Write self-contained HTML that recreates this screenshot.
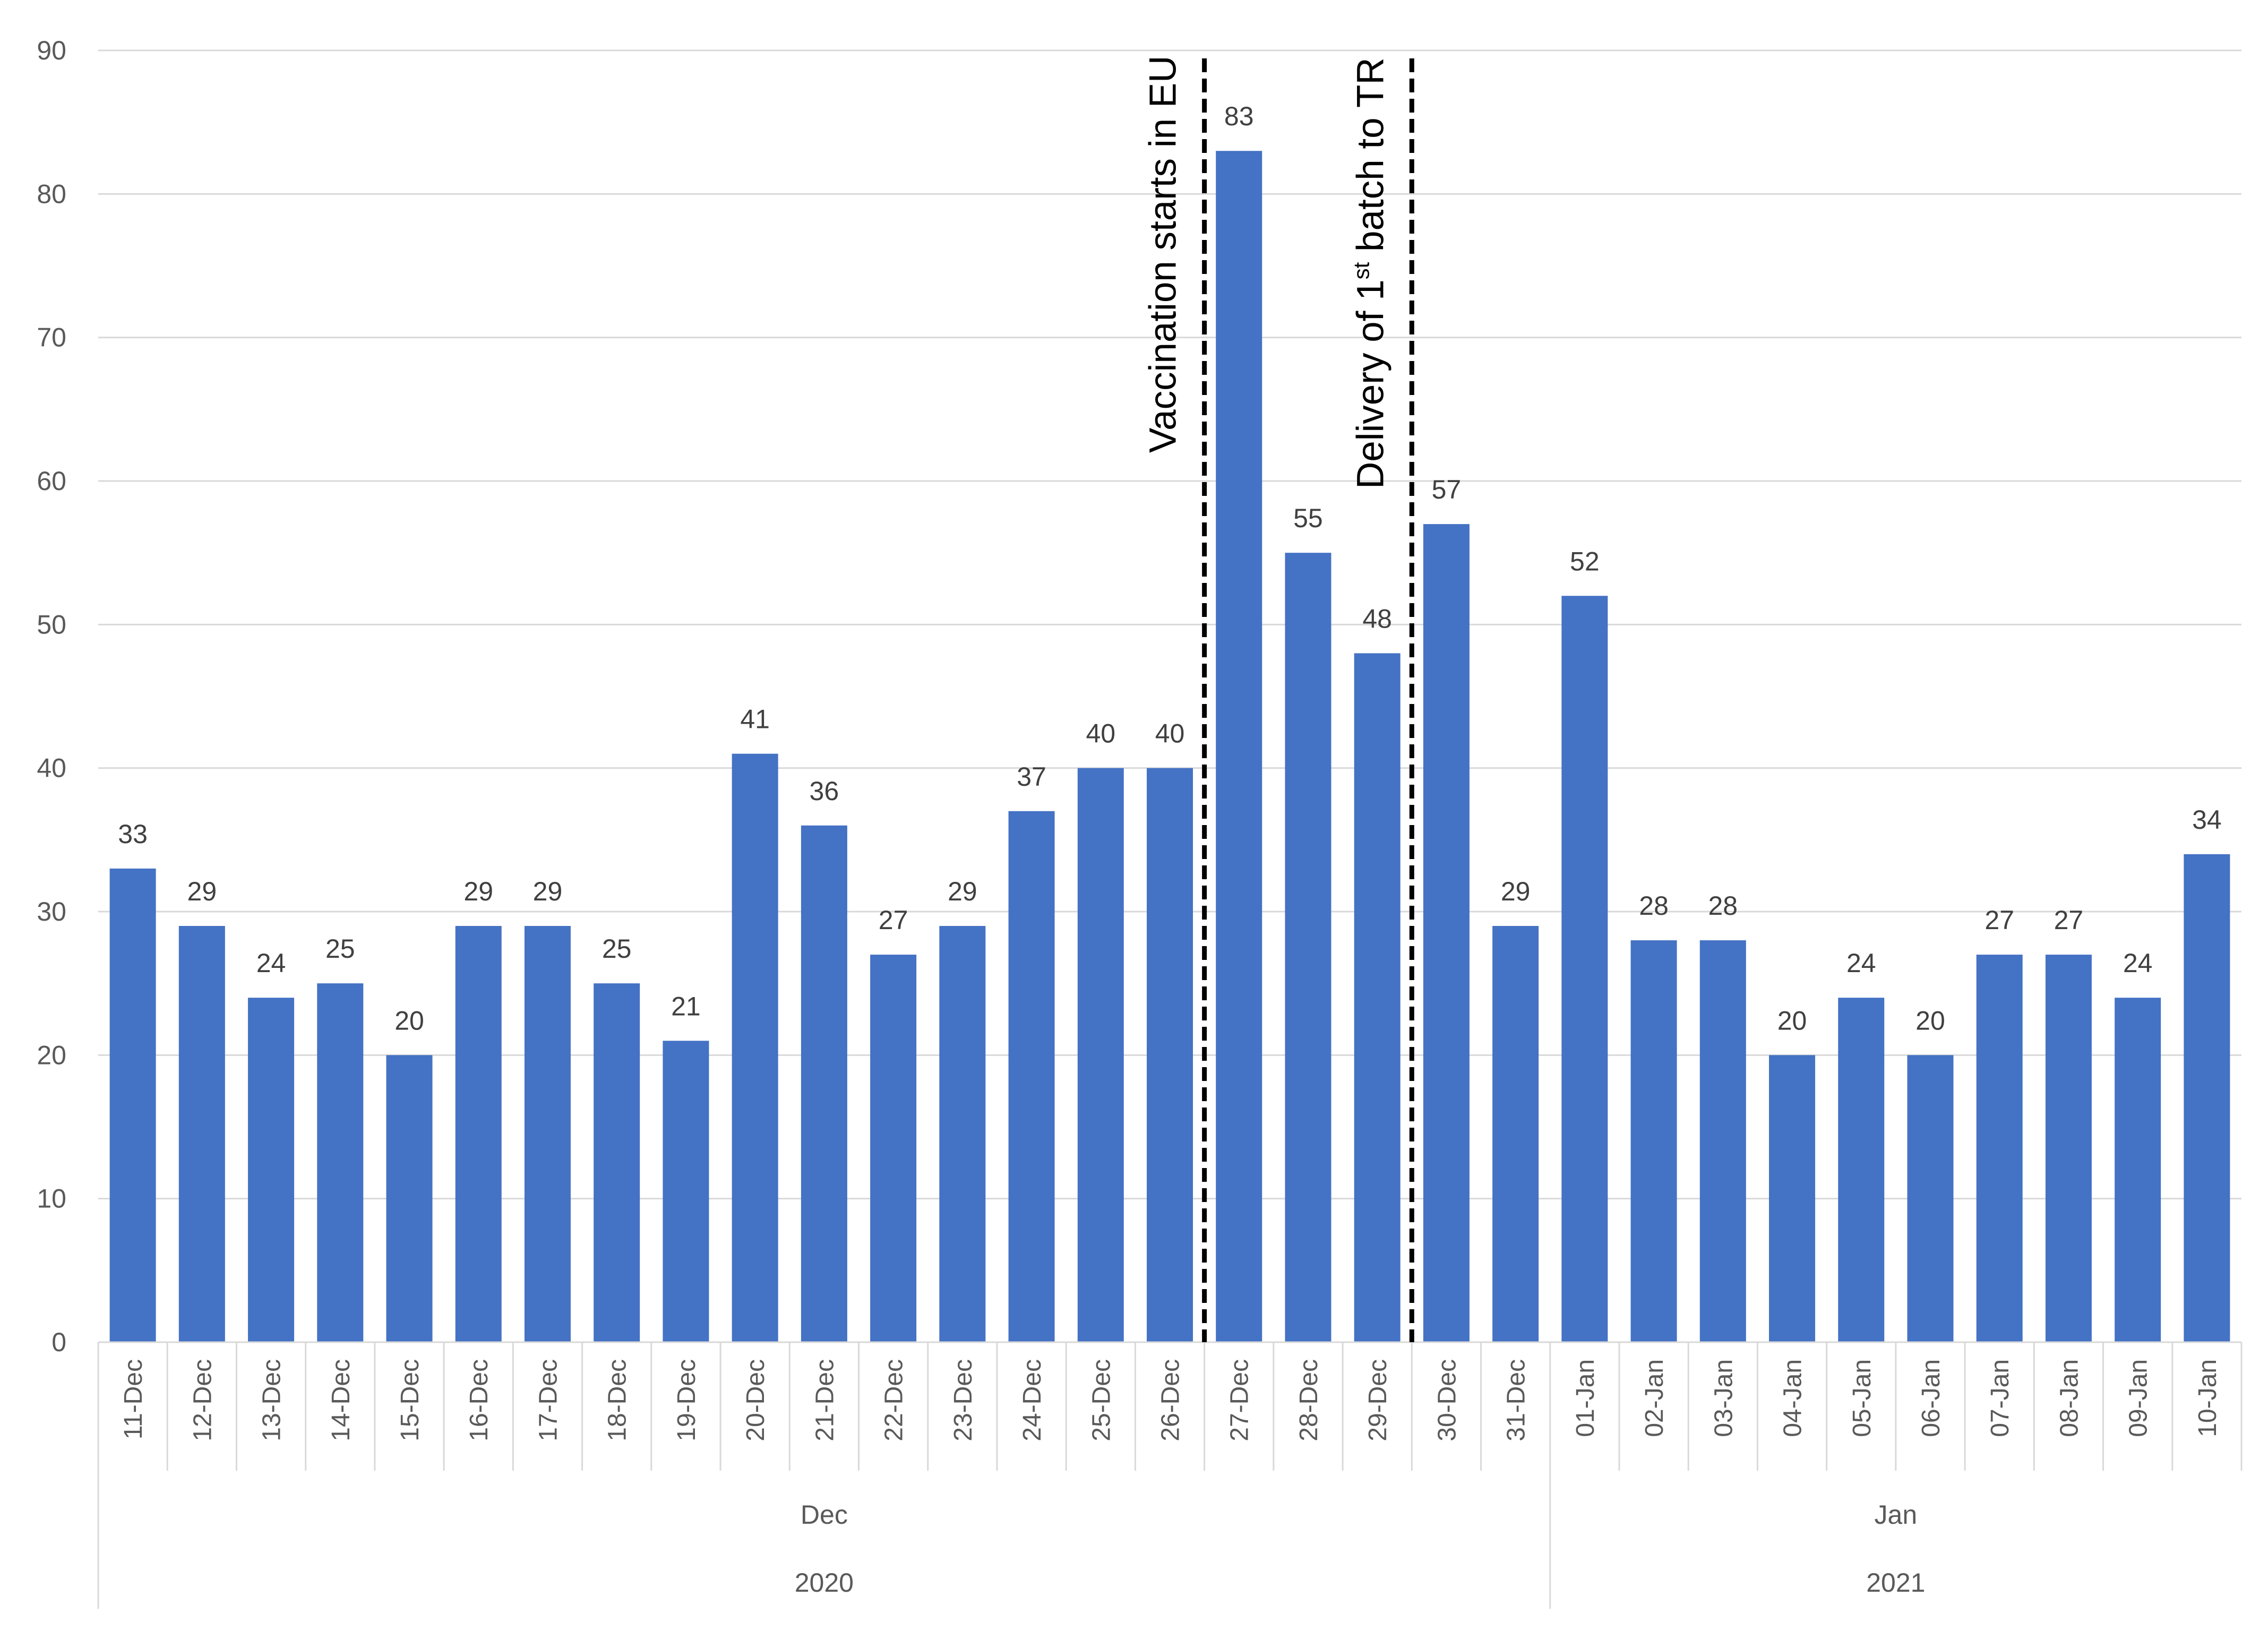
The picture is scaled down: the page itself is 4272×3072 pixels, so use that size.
<!DOCTYPE html>
<html><head><meta charset="utf-8"><style>
html,body{margin:0;padding:0;background:#fff;}
svg{display:block;}
text{font-family:"Liberation Sans",sans-serif;}
</style></head><body>
<svg id="chart" width="4272" height="3072" viewBox="0 0 4272 3072" xmlns="http://www.w3.org/2000/svg">
<g id="grid"></g>
<g id="yticks"></g>
<g id="bars"></g>
<g id="vals"></g>
<g id="xaxis"></g>
<g id="annot"></g>
</svg>
<script>
const categories = ["11-Dec","12-Dec","13-Dec","14-Dec","15-Dec","16-Dec","17-Dec","18-Dec","19-Dec","20-Dec","21-Dec","22-Dec","23-Dec","24-Dec","25-Dec","26-Dec","27-Dec","28-Dec","29-Dec","30-Dec","31-Dec","01-Jan","02-Jan","03-Jan","04-Jan","05-Jan","06-Jan","07-Jan","08-Jan","09-Jan","10-Jan"];
const values = [33,29,24,25,20,29,29,25,21,41,36,27,29,37,40,40,83,55,48,57,29,52,28,28,20,24,20,27,27,24,34];
const yTicks = [0,10,20,30,40,50,60,70,80,90];
const months = [{label:"Dec",start:0,end:21},{label:"Jan",start:21,end:31}];
const years = [{label:"2020",start:0,end:21},{label:"2021",start:21,end:31}];
const markers = [{after:16,label:"Vaccination starts in EU"},{after:19,label:"Delivery of 1st batch to TR"}];

const NS="http://www.w3.org/2000/svg";
const L=185,R=4222,Y0=2528,YT=95,YMAX=90;
const cw=(R-L)/categories.length, bw=87;
const y=v=>Y0-(v/YMAX)*(Y0-YT);
const xc=i=>L+(i+0.5)*cw;
const xe=i=>L+i*cw;
function mk(tag,attrs,parent,txt){const e=document.createElementNS(NS,tag);for(const k in attrs)e.setAttribute(k,attrs[k]);if(txt!==undefined)e.textContent=txt;document.getElementById(parent).appendChild(e);return e;}

yTicks.forEach(t=>{
  const g=mk('line',{x1:L,x2:R,y1:y(t),y2:y(t),stroke:'#d9d9d9','stroke-width':3},'grid');
  
  
  const tx=mk('text',{x:125,y:y(t)+17,'text-anchor':'end','font-size':50,fill:'#595959'},'yticks',String(t));
  
  
});
values.forEach((v,i)=>{
  const r=mk('rect',{x:xc(i)-bw/2,y:y(v),width:bw,height:Y0-y(v),fill:'#4472c4'},'bars');
  
  
  const t=mk('text',{x:xc(i),y:y(v)-48,'text-anchor':'middle','font-size':50,fill:'#404040'},'vals',String(v));
  
  
  const lb=mk('text',{transform:`translate(${xc(i)+17},2560) rotate(-90)`,'text-anchor':'end','font-size':48,fill:'#595959'},'xaxis',categories[i]);
  
  
});
for(let i=0;i<=categories.length;i++){
  const bottom=(i===0||i===21)?3030:2770;
  const l=mk('line',{x1:xe(i),x2:xe(i),y1:Y0,y2:bottom,stroke:'#d9d9d9','stroke-width':3},'xaxis');
  
  
}
const ax=mk('line',{x1:L,x2:R,y1:Y0,y2:Y0,stroke:'#d9d9d9','stroke-width':3},'xaxis');


months.forEach(m=>{
  const t=mk('text',{x:(xe(m.start)+xe(m.end))/2,y:2870,'text-anchor':'middle','font-size':50,fill:'#595959'},'xaxis',m.label);
  
  
});
years.forEach(m=>{
  const t=mk('text',{x:(xe(m.start)+xe(m.end))/2,y:2998,'text-anchor':'middle','font-size':50,fill:'#595959'},'xaxis',m.label);
  
  
});
markers.forEach((m,k)=>{
  const x=xe(m.after);
  const l=mk('line',{x1:x,x2:x,y1:110,y2:Y0,stroke:'#000','stroke-width':9,'stroke-dasharray':'26 12'},'annot');
  
  
  const bottom=k===0?853:921;
  const t=mk('text',{transform:`translate(${x-54},${bottom}) rotate(-90)`,'font-size':71,fill:'#000'},'annot');
  
  
  if(m.label.indexOf('1st')>=0){
    const s1=document.createElementNS(NS,'tspan');s1.textContent='Delivery of 1';t.appendChild(s1);
    const s2=document.createElementNS(NS,'tspan');s2.textContent='st';s2.setAttribute('font-size','42');s2.setAttribute('dy','-27');t.appendChild(s2);
    const s3=document.createElementNS(NS,'tspan');s3.textContent=' batch to TR';s3.setAttribute('dy','27');t.appendChild(s3);
  } else t.textContent=m.label;
});
</script>
</body></html>
